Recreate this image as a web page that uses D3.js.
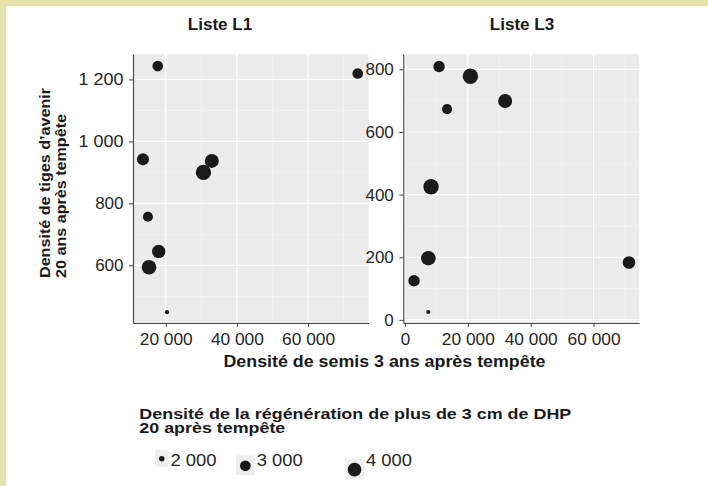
<!DOCTYPE html>
<html>
<head>
<meta charset="utf-8">
<script src="https://cdn.jsdelivr.net/npm/d3@7/dist/d3.min.js"></script>
<style>
  html, body { margin: 0; padding: 0; background: #fff; }
  svg text { font-family: "Liberation Sans", Arial, sans-serif; }
</style>
</head>
<body>
<div id="chart"></div>
<script>
// --- données ---
// Liste L1
const l1Semis = [17750, 73970, 13600, 32960, 30600, 15000, 18030, 15300, 20370];
const l1Tiges = [1243, 1219, 942, 937, 900, 757, 645, 594, 449];
const l1Regen = [2970, 2970, 3400, 4140, 4750, 2810, 3900, 4390, 1905];
// Liste L3
const l3Semis = [10860, 20830, 31880, 13410, 8310, 7450, 2900, 7450, 71270];
const l3Tiges = [809, 778, 699, 673, 425, 197, 125, 25, 183];
const l3Regen = [3210, 4750, 4140, 2810, 4750, 4390, 3210, 1905, 3610];

// ticks
const l1XTicks = [20000, 40000, 60000];
const l1XMinor = [30000, 50000, 70000];
const l1YTicks = [600, 800, 1000, 1200];
const l1YMinor = [500, 700, 900, 1100];
const l3XTicks = [0, 20000, 40000, 60000];
const l3XMinor = [10000, 30000, 50000, 70000];
const l3YTicks = [0, 200, 400, 600, 800];
const l3YMinor = [100, 300, 500, 700];

const legendValues = [2000, 3000, 4000];

const W = 708, H = 486;
const fr = d3.formatLocale({ decimal: ",", thousands: " ", grouping: [3], currency: ["", " €"] });
const fmt = fr.format(",d");

const svg = d3.select('#chart').append('svg')
    .attr('width', W).attr('height', H);

// cadre jaune (haut + gauche)
svg.append('rect').attr('width', W).attr('height', H).attr('fill', '#e6e3ad');
svg.append('rect').attr('x', 6).attr('y', 6).attr('width', W - 6).attr('height', H - 6).attr('fill', '#fff');

// taille des points : façon ggplot (aire ~ valeur normalisée)
const tScale = d3.scaleLinear().domain([1880, 4750]).range([0, 1]).clamp(true);
const rScale = d3.scaleLinear().domain([0, 1]).range([1.5, 7.7]);
const radius = v => rScale(Math.sqrt(tScale(v)));

const TOP = 54, BOTTOM = 323;

// texte un peu étiré (la figure d'origine est élargie)
function stretched(sel, len) {
    return sel.attr('textLength', len).attr('lengthAdjust', 'spacingAndGlyphs');
}

function drawPanel(opt) {
    const x = d3.scaleLinear().domain(opt.xDomain).range([opt.left, opt.right]);
    const y = d3.scaleLinear().domain(opt.yDomain).range([BOTTOM, TOP]);
    const g = svg.append('g');

    g.append('rect')
        .attr('x', opt.left).attr('y', TOP)
        .attr('width', opt.right - opt.left).attr('height', BOTTOM - TOP)
        .attr('fill', '#ebebeb');

    // grille mineure
    g.selectAll('.vminor').data(opt.xMinor.filter(d => x(d) > opt.left && x(d) < opt.right)).join('line')
        .attr('x1', d => x(d)).attr('x2', d => x(d)).attr('y1', TOP).attr('y2', BOTTOM)
        .attr('stroke', '#f5f5f5').attr('stroke-width', 0.6);
    g.selectAll('.hminor').data(opt.yMinor.filter(d => y(d) > TOP && y(d) < BOTTOM)).join('line')
        .attr('y1', d => y(d)).attr('y2', d => y(d)).attr('x1', opt.left).attr('x2', opt.right)
        .attr('stroke', '#f5f5f5').attr('stroke-width', 0.6);
    // grille majeure
    g.selectAll('.vmajor').data(opt.xTicks).join('line')
        .attr('x1', d => x(d)).attr('x2', d => x(d)).attr('y1', TOP).attr('y2', BOTTOM)
        .attr('stroke', '#fff').attr('stroke-width', 1.2);
    g.selectAll('.hmajor').data(opt.yTicks).join('line')
        .attr('y1', d => y(d)).attr('y2', d => y(d)).attr('x1', opt.left).attr('x2', opt.right)
        .attr('stroke', '#fff').attr('stroke-width', 1.2);

    // axes
    const ax = g.append('g')
        .attr('transform', `translate(0,${BOTTOM})`)
        .call(d3.axisBottom(x).tickValues(opt.xTicks).tickFormat(fmt)
            .tickSize(4).tickSizeOuter(0).tickPadding(6));
    const ay = g.append('g')
        .attr('transform', `translate(${opt.left},0)`)
        .call(d3.axisLeft(y).tickValues(opt.yTicks).tickFormat(fmt)
            .tickSize(4).tickSizeOuter(0).tickPadding(5.5));
    [ax, ay].forEach(a => {
        a.select('.domain').attr('stroke', '#444').attr('stroke-width', 1.1);
        a.selectAll('.tick line').attr('stroke', '#444').attr('stroke-width', 1);
        a.selectAll('.tick text')
            .attr('font-size', '17px')
            .attr('fill', '#262626')
            .style('font-family', '"Liberation Sans", Arial, sans-serif');
    });
    // les espaces de milliers paraissent plus larges sur l'original
    ax.selectAll('.tick text').filter(d => d >= 10000)
        .each(function() { stretched(d3.select(this), 53); });
    ay.selectAll('.tick text').filter(d => d >= 1000)
        .each(function() { stretched(d3.select(this), 45); });

    // points
    const pts = opt.xs.map((v, i) => ({ x: v, y: opt.ys[i], s: opt.ss[i] }));
    g.selectAll('.dot').data(pts).join('circle')
        .attr('cx', d => x(d.x))
        .attr('cy', d => y(d.y))
        .attr('r', d => radius(d.s))
        .attr('fill', '#1a1a1a');

    // titre
    stretched(svg.append('text')
        .attr('x', opt.titleX).attr('y', 30)
        .attr('text-anchor', 'middle')
        .attr('font-size', '16.5px').attr('font-weight', 'bold')
        .attr('fill', '#1a1a1a')
        .text(opt.title), 64.6);
}

// panneau gauche d'abord, celui de droite recouvre ses étiquettes
drawPanel({
    title: 'Liste L1', titleX: 220,
    left: 133, right: 368.5,
    xDomain: [10800, 77000], yDomain: [414, 1282],
    xs: l1Semis, ys: l1Tiges, ss: l1Regen,
    xTicks: l1XTicks, xMinor: l1XMinor, yTicks: l1YTicks, yMinor: l1YMinor
});
drawPanel({
    title: 'Liste L3', titleX: 522,
    left: 403.3, right: 639.3,
    xDomain: [-510, 74550], yDomain: [-10, 849],
    xs: l3Semis, ys: l3Tiges, ss: l3Regen,
    xTicks: l3XTicks, xMinor: l3XMinor, yTicks: l3YTicks, yMinor: l3YMinor
});

// titre axe Y (deux lignes)
const yt = svg.append('text')
    .attr('transform', 'translate(49.5,278) rotate(-90)')
    .attr('font-size', '15.5px').attr('font-weight', 'bold').attr('fill', '#1a1a1a');
stretched(yt.append('tspan').attr('x', 0).attr('y', 0).text('Densité de tiges d’avenir'), 190);
stretched(yt.append('tspan').attr('x', 0).attr('y', 16).text('20 ans après tempête'), 164);

// titre axe X
stretched(svg.append('text')
    .attr('x', 384.5).attr('y', 366.7)
    .attr('text-anchor', 'middle')
    .attr('font-size', '16px').attr('font-weight', 'bold').attr('fill', '#1a1a1a')
    .text('Densité de semis 3 ans après tempête'), 322);

// légende taille
const lt = svg.append('text')
    .attr('font-size', '15.5px').attr('font-weight', 'bold').attr('fill', '#1a1a1a');
stretched(lt.append('tspan').attr('x', 139.3).attr('y', 419.3)
    .text('Densité de la régénération de plus de 3 cm de DHP'), 432);
stretched(lt.append('tspan').attr('x', 139.3).attr('y', 432.7)
    .text('20 après tempête'), 146);

const keyX = [155, 236, 345];
legendValues.forEach((v, i) => {
    const r = radius(v);
    const kw = Math.min(19, 2 * r + 8);
    const kh = Math.max(17, Math.min(20, 2 * r + 9));
    const cy = 458.3 + 2.68 * (r - radius(legendValues[0]));
    const kg = svg.append('g');
    kg.append('rect')
        .attr('x', keyX[i]).attr('y', cy - kh / 2)
        .attr('width', kw).attr('height', kh)
        .attr('fill', '#eeeeee');
    kg.append('circle')
        .attr('cx', keyX[i] + kw / 2).attr('cy', cy + 0.5)
        .attr('r', r).attr('fill', '#1a1a1a');
    stretched(kg.append('text')
        .attr('x', keyX[i] + kw + 2).attr('y', 466)
        .attr('font-size', '17px').attr('fill', '#262626')
        .text(fmt(v)), 46);
});
</script>
</body>
</html>
